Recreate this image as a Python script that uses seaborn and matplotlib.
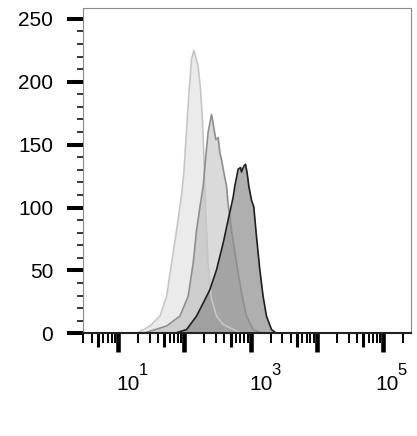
import numpy as np
import matplotlib
matplotlib.use("Agg")
import matplotlib.pyplot as plt
import matplotlib.ticker as mticker
import seaborn as sns

# ---- data (fluorescence intensity, event count) ----
light_x = [19.3, 30.3, 43.0, 54.1, 64.4, 76.6, 91.0, 98.6, 108.3, 118.6, 128.9, 139.6,
           161.9, 175.9, 188.6, 197.4, 204.3, 211.5, 228.9, 257.8, 306.3, 385.4, 613.5, 736.0]
light_y = [0, 5.8, 13.7, 29.5, 56, 82, 110, 128, 162, 194, 218, 225,
           212, 194, 168, 141, 117, 93, 55, 27, 13.7, 7, 1.8, 0]

mid_x = [24.0, 54.1, 85.9, 114.6, 136.2, 153.1, 171.8, 192.8, 211.5, 228.9, 257.8, 281.8,
         299.2, 324.3, 343.6, 364.8, 394.5, 433.5, 458.1, 515.2, 613.5, 729.5, 867.0, 1091.0, 1476.0]
mid_y = [0, 5.8, 13.7, 29.5, 55.8, 82, 100, 117, 141, 160, 174, 162,
         154, 155.6, 143.7, 138, 128, 117, 103, 82, 55.8, 32, 13.7, 3, 0]

dark_x = [72.1, 108.3, 153.1, 192.8, 243.2, 306.3, 385.4, 458.1, 544.5, 578.0, 648.6, 704.7,
          729.5, 790.7, 837.5, 885.0, 939.8, 1032.0, 1117.0, 1227.0, 1377.0, 1542.0, 1734.0, 2065.0, 2455.0]
dark_y = [0, 3, 13.7, 24, 34.7, 50.5, 71.6, 90, 108, 117, 130.4, 131.8,
          128.3, 133, 134.4, 127.8, 117, 105.8, 100.5, 76.8, 50.5, 29.5, 13.7, 3, 0]

y_ticks = [0, 50, 100, 150, 200, 250]
x_label_exps = [1, 3, 5]

sns.set_style("white")
plt.rcParams["font.family"] = ["Liberation Sans", "DejaVu Sans"]
plt.rcParams["text.color"] = "black"
plt.rcParams["ytick.color"] = "black"
plt.rcParams["xtick.color"] = "black"

fig = plt.figure(figsize=(4.17, 4.36), dpi=100)
ax = fig.add_axes([83 / 417, 1 - 333.3 / 436, (411 - 83) / 417, (333.3 - 8.3) / 436])

series = [
    (light_x, light_y, (200/255,)*3, 0.36, "#c6c6c6"),
    (mid_x, mid_y, (149/255,)*3, 0.35, "#8e8e8e"),
    (dark_x, dark_y, (142/255,)*3, 0.70, "#1e1e1e"),
]
for xs, ys, fc, a, ec in series:
    ax.fill_between(xs, ys, 0, color=fc, alpha=a, lw=0)
    sns.lineplot(x=xs, y=ys, ax=ax, color=ec, lw=1.2, estimator=None, sort=False)

ax.set_xscale("log")
ax.set_xlim(2.97, 262144)
ax.set_ylim(0, 258.4)

# y axis ticks
ax.set_yticks(y_ticks)
ax.yaxis.set_minor_locator(mticker.MultipleLocator(10))
ax.tick_params(axis="y", which="both", left=True, direction="out")
ax.tick_params(axis="y", which="major", length=11.5, width=2.9, labelsize=15, pad=10,
               color="black", labelcolor="black")
ax.tick_params(axis="y", which="minor", length=4.3, width=1.1, color="black")

# x axis ticks
ax.xaxis.set_major_locator(mticker.FixedLocator([1e1, 1e2, 1e3, 1e4, 1e5]))
ax.xaxis.set_major_formatter(mticker.NullFormatter())
ax.xaxis.set_minor_locator(mticker.LogLocator(base=10, subs=np.arange(2, 10), numticks=20))
ax.xaxis.set_minor_formatter(mticker.NullFormatter())
ax.tick_params(axis="x", which="both", bottom=True, direction="out")
ax.tick_params(axis="x", which="major", length=13.5, width=3.3, color="black")
ax.tick_params(axis="x", which="minor", length=7, width=1.4, color="black")

fig.canvas.draw()
minor_locs = ax.xaxis.get_minorticklocs()
mticks = ax.xaxis.get_minor_ticks(len(minor_locs))
for t, loc in zip(mticks, minor_locs):
    mant = loc / 10 ** np.floor(np.log10(loc) + 1e-9)
    if abs(mant - 5) < 0.01:
        t.tick1line.set_markersize(10)
        t.tick1line.set_markeredgewidth(2.2)

# x labels 10^k
for k in x_label_exps:
    dx = -5 if k == 5 else 0
    ax.annotate("10", xy=(10 ** k, 0), xycoords=("data", "axes fraction"),
                xytext=(dx - 1, -40.8), textcoords="offset points",
                ha="left", va="baseline", fontsize=15, color="black")
    ax.annotate(str(k), xy=(10 ** k, 0), xycoords=("data", "axes fraction"),
                xytext=(dx + 15, -30), textcoords="offset points",
                ha="left", va="baseline", fontsize=12, color="black")

for side in ["top", "right", "left"]:
    ax.spines[side].set_color("#8a8a8a")
    ax.spines[side].set_linewidth(0.8)
ax.spines["bottom"].set_color("#222222")
ax.spines["bottom"].set_linewidth(1.5)
ax.set_xlabel("")
ax.set_ylabel("")

fig.savefig("out.png", dpi=100)
